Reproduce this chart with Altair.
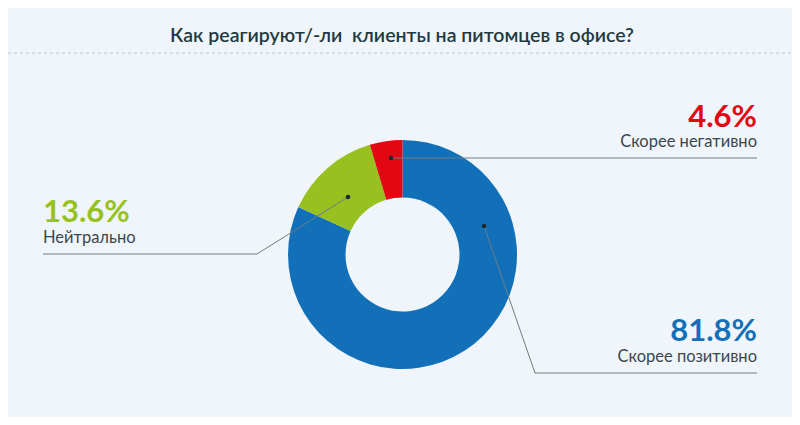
import altair as alt
import pandas as pd

# ---- data ----
categories = ["Скорее позитивно", "Нейтрально", "Скорее негативно"]
values = [81.8, 13.6, 4.6]
labels = ["81.8%", "13.6%", "4.6%"]
colors = ["#1270b8", "#97c11f", "#e30613"]
title_text = "Как реагируют/-ли\u00a0 клиенты на питомцев в офисе?"

BG = "#eff5fb"
W, H = 784, 409  # plot area (page margin 8px)
CX, CY = 402.5, 254.5
R_OUT, R_IN = 114.5, 57

df = pd.DataFrame({"cat": categories, "val": values, "order": [0, 1, 2]})

xs = alt.Scale(domain=[8, 792], nice=False, zero=False)
ys = alt.Scale(domain=[8, 417], nice=False, zero=False, reverse=True)

arc = alt.Chart(df).mark_arc(outerRadius=R_OUT, innerRadius=R_IN).encode(
    theta=alt.Theta("val:Q", stack=True),
    order=alt.Order("order:Q"),
    color=alt.Color("cat:N", scale=alt.Scale(domain=categories, range=colors), legend=None),
    x=alt.value(CX - 8),
    y=alt.value(CY - 8),
)

# leader lines (annotation geometry)
lead = pd.DataFrame({
    "line": ["neg", "neg", "neu", "neu", "neu", "pos", "pos", "pos"],
    "k": [0, 1, 0, 1, 2, 0, 1, 2],
    "x": [391, 757, 348, 257, 43, 484, 535, 757],
    "y": [158, 158, 197, 254, 254, 226, 373, 373],
})
lines = alt.Chart(lead).mark_line(color="#6d7c86", strokeWidth=1).encode(
    x=alt.X("x:Q", scale=xs, axis=None),
    y=alt.Y("y:Q", scale=ys, axis=None),
    detail="line:N",
    order="k:Q",
)
dots_df = lead[lead["k"] == 0]
dots = alt.Chart(dots_df).mark_circle(color="#1c2b33", size=22, opacity=1).encode(
    x=alt.X("x:Q", scale=xs, axis=None),
    y=alt.Y("y:Q", scale=ys, axis=None),
)

# percentage labels
pct = pd.DataFrame({
    "t": labels,
    "x": [757, 43, 757],
    "y": [341, 222, 127],
    "align": ["right", "left", "right"],
    "cat": categories,
})
pct_r = alt.Chart(pct[pct["align"] == "right"]).mark_text(
    align="right", baseline="alphabetic", font="Lato", fontSize=31, fontWeight="bold"
).encode(
    x=alt.X("x:Q", scale=xs, axis=None), y=alt.Y("y:Q", scale=ys, axis=None), text="t:N",
    color=alt.Color("cat:N", scale=alt.Scale(domain=categories, range=colors), legend=None),
)
pct_l = alt.Chart(pct[pct["align"] == "left"]).mark_text(
    align="left", baseline="alphabetic", font="Lato", fontSize=31, fontWeight="bold"
).encode(
    x=alt.X("x:Q", scale=xs, axis=None), y=alt.Y("y:Q", scale=ys, axis=None), text="t:N",
    color=alt.Color("cat:N", scale=alt.Scale(domain=categories, range=colors), legend=None),
)

names = pd.DataFrame({
    "t": categories,
    "x": [757, 43, 757],
    "y": [362, 243, 147],
    "align": ["right", "left", "right"],
})
name_r = alt.Chart(names[names["align"] == "right"]).mark_text(
    align="right", baseline="alphabetic", font="Lato", fontSize=16.5, color="#3a4750"
).encode(x=alt.X("x:Q", scale=xs, axis=None), y=alt.Y("y:Q", scale=ys, axis=None), text="t:N")
name_l = alt.Chart(names[names["align"] == "left"]).mark_text(
    align="left", baseline="alphabetic", font="Lato", fontSize=16.5, color="#3a4750"
).encode(x=alt.X("x:Q", scale=xs, axis=None), y=alt.Y("y:Q", scale=ys, axis=None), text="t:N")

title_df = pd.DataFrame({"t": [title_text], "x": [402], "y": [42]})
title = alt.Chart(title_df).mark_text(
    align="center", baseline="alphabetic", font="Lato", fontSize=19.5, fontWeight=600, color="#1f3a40"
).encode(x=alt.X("x:Q", scale=xs, axis=None), y=alt.Y("y:Q", scale=ys, axis=None), text="t:N")

sep_df = pd.DataFrame({"x": [8], "x2": [792], "y": [53]})
sep = alt.Chart(sep_df).mark_rule(color="#b9c4cc", strokeDash=[3, 3], strokeWidth=1).encode(
    x=alt.X("x:Q", scale=xs, axis=None), x2="x2:Q", y=alt.Y("y:Q", scale=ys, axis=None)
)

chart = alt.layer(sep, title, arc, lines, dots, pct_r, pct_l, name_r, name_l).resolve_scale(
    color="independent"
).properties(
    width=W, height=H, autosize=alt.AutoSizeParams(type="none"), padding=0, background=BG
).configure_view(stroke=None)

chart.save("out.html", embed_options={"renderer": "svg", "actions": False})
